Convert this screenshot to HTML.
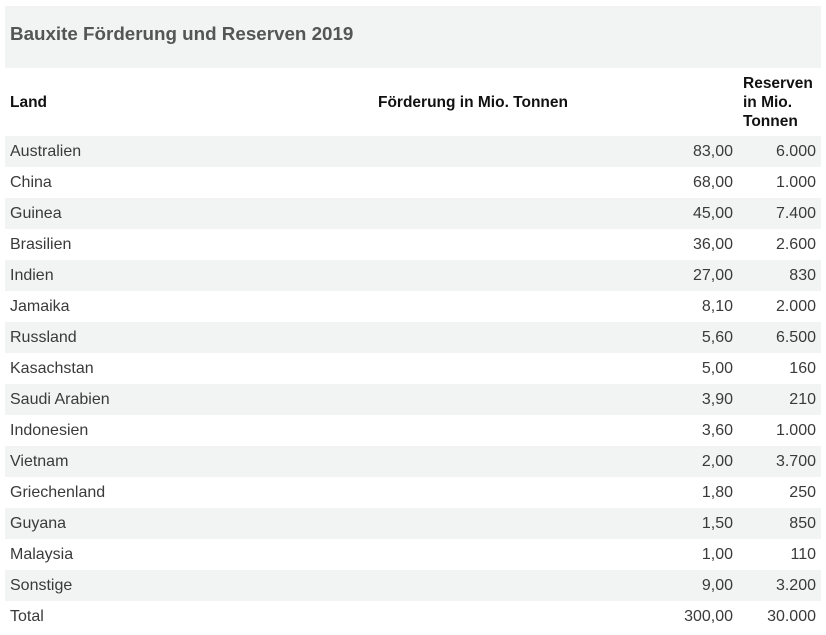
<!DOCTYPE html>
<html><head><meta charset="utf-8"><style>
body{margin:0;width:826px;height:635px;background:#fff;font-family:"Liberation Sans",sans-serif;position:relative;overflow:hidden}
.t{position:absolute;left:5px;top:6px;width:816px;height:62px;background:#f2f3f3}
.t span{position:absolute;left:5px;top:17px;font-size:18.8px;font-weight:bold;color:#555}
.h{position:absolute;font-size:15.5px;font-weight:bold;color:#111;line-height:19px}
.r{position:absolute;left:5px;width:816px;height:31px;font-size:16px;color:#3a3a3a}
.r.g{background:#f2f3f3}
.r span{position:absolute;top:7px}
.a{left:5px}.b{right:88px}.c{right:5px}
</style></head><body>
<div class="t"><span>Bauxite Förderung und Reserven 2019</span></div>
<div class="h" style="left:10px;top:93px">Land</div>
<div class="h" style="left:378px;top:93px">Förderung in Mio. Tonnen</div>
<div class="h" style="left:743px;top:74px">Reserven<br>in Mio.<br>Tonnen</div>
<div class="r g" style="top:136px"><span class="a">Australien</span><span class="b">83,00</span><span class="c">6.000</span></div>
<div class="r" style="top:167px"><span class="a">China</span><span class="b">68,00</span><span class="c">1.000</span></div>
<div class="r g" style="top:198px"><span class="a">Guinea</span><span class="b">45,00</span><span class="c">7.400</span></div>
<div class="r" style="top:229px"><span class="a">Brasilien</span><span class="b">36,00</span><span class="c">2.600</span></div>
<div class="r g" style="top:260px"><span class="a">Indien</span><span class="b">27,00</span><span class="c">830</span></div>
<div class="r" style="top:291px"><span class="a">Jamaika</span><span class="b">8,10</span><span class="c">2.000</span></div>
<div class="r g" style="top:322px"><span class="a">Russland</span><span class="b">5,60</span><span class="c">6.500</span></div>
<div class="r" style="top:353px"><span class="a">Kasachstan</span><span class="b">5,00</span><span class="c">160</span></div>
<div class="r g" style="top:384px"><span class="a">Saudi Arabien</span><span class="b">3,90</span><span class="c">210</span></div>
<div class="r" style="top:415px"><span class="a">Indonesien</span><span class="b">3,60</span><span class="c">1.000</span></div>
<div class="r g" style="top:446px"><span class="a">Vietnam</span><span class="b">2,00</span><span class="c">3.700</span></div>
<div class="r" style="top:477px"><span class="a">Griechenland</span><span class="b">1,80</span><span class="c">250</span></div>
<div class="r g" style="top:508px"><span class="a">Guyana</span><span class="b">1,50</span><span class="c">850</span></div>
<div class="r" style="top:539px"><span class="a">Malaysia</span><span class="b">1,00</span><span class="c">110</span></div>
<div class="r g" style="top:570px"><span class="a">Sonstige</span><span class="b">9,00</span><span class="c">3.200</span></div>
<div class="r" style="top:601px"><span class="a">Total</span><span class="b">300,00</span><span class="c">30.000</span></div>
</body></html>
